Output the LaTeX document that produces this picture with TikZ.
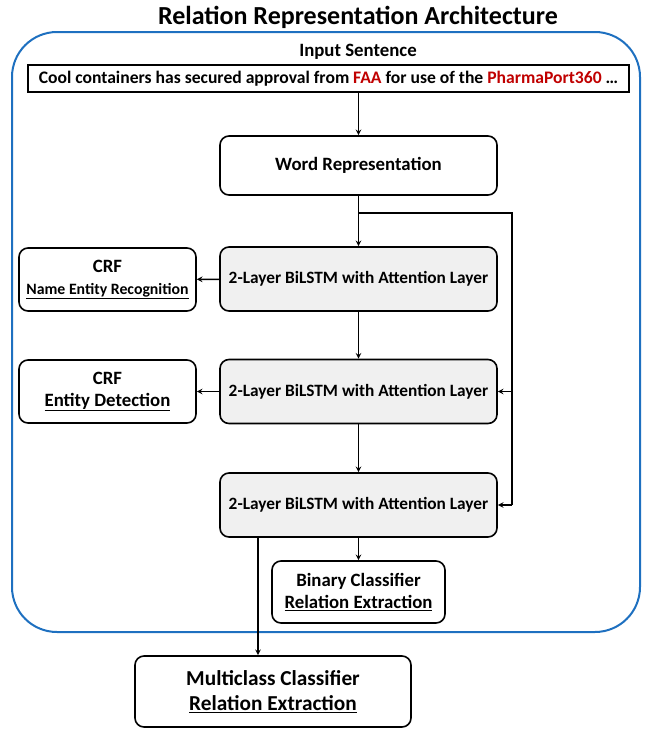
\documentclass[tikz,border=0pt]{standalone}
\usepackage{fontspec}
\setmainfont{Carlito}
\usetikzlibrary{positioning, arrows, shapes}
\definecolor{frameblue}{RGB}{30,112,192}
\definecolor{entred}{RGB}{192,0,0}
\tikzset{
    >=stealth, % small bold arrow heads
    box/.style={draw, line width=1.6pt, rounded corners=9pt, fill=white, align=center,
        font=\fontsize{18.8}{22}\selectfont\bfseries}, % every rounded block
    lstm/.style={box, fill=gray!12, minimum width=277pt, minimum height=64pt,
        font=\fontsize{17.3}{20}\selectfont\bfseries}, % the BiLSTM layers
    crf/.style={box, minimum width=177pt, minimum height=63pt}, % the CRF outputs
    flow/.style={->, line width=1.5pt}, % connectors
}
\begin{document}
\begin{tikzpicture}[x=1pt, y=-1pt]
        \useasboundingbox (0,0) rectangle (656,729);
        % frame and title
        \draw[frameblue, line width=2pt, rounded corners=45pt] (12,32) rectangle (640,632);
        \node[font=\fontsize{26}{30}\selectfont\bfseries] (title) at (358,17) {Relation Representation Architecture};
        \node[font=\fontsize{18.8}{22}\selectfont\bfseries] (inlabel) at (358,52) {Input Sentence};
        \node[draw, line width=1.6pt, minimum width=601pt, minimum height=27pt, inner sep=0pt, font=\fontsize{17.6}{20}\selectfont\bfseries] (sent) at (328.5,78.5)
            {Cool containers has secured approval from \textcolor{entred}{FAA} for use of the \textcolor{entred}{PharmaPort360} \dots};

        \node[box, minimum width=277pt, minimum height=59pt] (wr) at (358.5,165.5) {Word Representation};
        \node[lstm] (l1) at (358.5,279) {2-Layer BiLSTM with Attention Layer};
        \node[lstm] (l2) at (358.5,391.5) {2-Layer BiLSTM with Attention Layer};
        \node[lstm] (l3) at (358.5,505) {2-Layer BiLSTM with Attention Layer};
        \node[crf] (crf1) at (107.5,279.5) {CRF\\\fontsize{15.8}{19}\selectfont\underline{Name Entity Recognition}};
        \node[crf] (crf2) at (107.5,391.5) {CRF\\\underline{Entity Detection}};
        \node[box, minimum width=173pt, minimum height=62pt] (bin) at (358.5,592) {Binary Classifier\\\underline{Relation Extraction}};
        \node[box, minimum width=276pt, minimum height=71pt, font=\fontsize{21.3}{25}\selectfont\bfseries] (multi) at (273,691.5) {Multiclass Classifier\\\underline{Relation Extraction}};

        \coordinate (split) at (358.5,213);
        \coordinate (side) at (512,213);
        \draw[flow] (sent.south -| wr) -- (wr);
        \draw[flow] (wr) -- (l1);
        \draw[flow] (l1) -- (l2);
        \draw[flow] (l2) -- (l3);
        \draw[flow] (l1) -- (crf1);
        \draw[flow] (l2) -- (crf2);
        \draw[flow] (l3) -- (bin);
        \draw[line width=1.5pt] (split) -- (side) -- (side |- l3);
        \draw[flow] (side |- l2) -- (l2.east);
        \draw[flow] (side |- l3) -- (l3.east);
        \draw[flow] (l3.south -| 258,0) -- (multi.north -| 258,0);
    \end{tikzpicture}
\end{document}
